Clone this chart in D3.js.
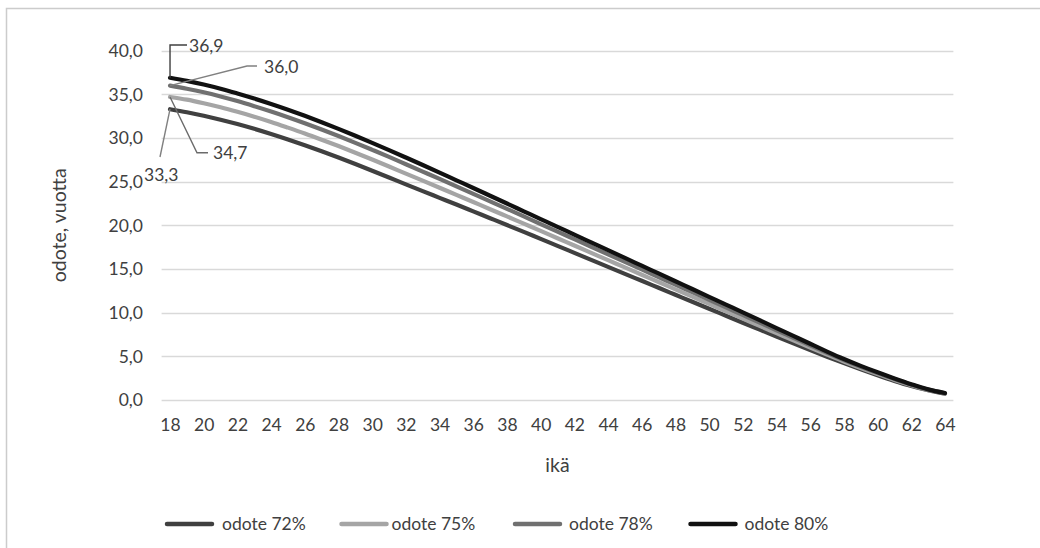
<!DOCTYPE html>
<html>
<head>
<meta charset="utf-8">
<script src="https://cdn.jsdelivr.net/npm/d3@7"></script>
<style>
  html, body { margin: 0; padding: 0; background: #fff; }
  svg { display: block; }
  text { font-family: Lato, "Open Sans", sans-serif; fill: #404040; }
</style>
</head>
<body>
<svg id="chart" width="1040" height="548"></svg>
<script>
// Ages 18..64
const ages = d3.range(18, 65);
const xTickLabels = d3.range(18, 65, 2);
const yTicks = [0, 5, 10, 15, 20, 25, 30, 35, 40];

// Expected remaining years by age, one series per employment rate
const odote72 = [33.30, 32.95, 32.55, 32.10, 31.60, 31.05, 30.46, 29.83, 29.17, 28.48,
  27.76, 27.02, 26.26, 25.48, 24.69, 23.92, 23.15, 22.38, 21.60, 20.82,
  20.04, 19.25, 18.45, 17.65, 16.85, 16.05, 15.25, 14.45, 13.65, 12.85,
  12.05, 11.25, 10.45, 9.65, 8.85, 8.06, 7.27, 6.49, 5.72, 4.96,
  4.22, 3.51, 2.83, 2.19, 1.61, 1.12, 0.72];
const odote75 = [34.70, 34.39, 33.98, 33.52, 33.00, 32.44, 31.84, 31.19, 30.52, 29.81,
  29.08, 28.32, 27.54, 26.74, 25.92, 25.12, 24.31, 23.49, 22.67, 21.85,
  21.02, 20.19, 19.36, 18.52, 17.69, 16.85, 16.01, 15.18, 14.34, 13.51,
  12.67, 11.83, 11.00, 10.16, 9.33, 8.49, 7.66, 6.83, 6.01, 5.20,
  4.41, 3.67, 2.97, 2.30, 1.69, 1.16, 0.75];
const odote78 = [36.00, 35.65, 35.24, 34.76, 34.23, 33.65, 33.04, 32.39, 31.70, 30.98,
  30.23, 29.45, 28.65, 27.84, 27.00, 26.16, 25.32, 24.47, 23.61, 22.75,
  21.89, 21.02, 20.15, 19.29, 18.42, 17.55, 16.68, 15.82, 14.95, 14.08,
  13.21, 12.35, 11.48, 10.61, 9.74, 8.87, 7.99, 7.13, 6.26, 5.40,
  4.58, 3.81, 3.09, 2.40, 1.76, 1.20, 0.78];
const odote80 = [36.90, 36.55, 36.13, 35.65, 35.10, 34.52, 33.90, 33.24, 32.54, 31.81,
  31.05, 30.26, 29.45, 28.62, 27.77, 26.91, 26.04, 25.16, 24.28, 23.39,
  22.50, 21.61, 20.72, 19.83, 18.94, 18.05, 17.16, 16.27, 15.38, 14.49,
  13.60, 12.71, 11.82, 10.93, 10.04, 9.14, 8.24, 7.34, 6.44, 5.55,
  4.70, 3.91, 3.17, 2.47, 1.81, 1.22, 0.80];

const seriesNames = ["odote 72%", "odote 75%", "odote 78%", "odote 80%"];
const seriesValues = [odote72, odote75, odote78, odote80];
const seriesColors = ["#404040", "#a5a5a5", "#707070", "#111111"];

const svg = d3.select("#chart");
const fmt = v => d3.format(".1f")(v).replace(".", ",");

// outer chart frame
svg.append("rect")
  .attr("x", 6.5).attr("y", 8.5)
  .attr("width", 1100).attr("height", 600)
  .attr("fill", "none").attr("stroke", "#cccccc").attr("stroke-width", 1.5);

const plot = { left: 161.6, right: 953.4, top: 50.7, bottom: 400 };

const x = d3.scalePoint().domain(ages).range([plot.left, plot.right]).padding(0.5);
const y = d3.scaleLinear().domain([0, 40]).range([plot.bottom, plot.top]);

// horizontal gridlines
svg.append("g")
  .selectAll("line")
  .data(yTicks)
  .join("line")
  .attr("x1", plot.left).attr("x2", plot.right)
  .attr("y1", d => Math.round(y(d)) + 0.5).attr("y2", d => Math.round(y(d)) + 0.5)
  .attr("stroke", "#d9d9d9").attr("stroke-width", 1.3);

// y axis labels
const yAxis = d3.axisLeft(y).tickValues(yTicks).tickFormat(fmt).tickSize(0).tickPadding(0);
svg.append("g")
  .attr("transform", `translate(${143},0)`)
  .call(yAxis)
  .call(g => g.select(".domain").remove())
  .call(g => g.selectAll("text").attr("font-size", 17.5).attr("dy", "0.34em")
    .style("font-family", "Lato").attr("fill", "#404040"));

// x axis labels
const xAxis = d3.axisBottom(x).tickValues(xTickLabels).tickSize(0).tickPadding(0);
svg.append("g")
  .attr("transform", `translate(0,${419})`)
  .call(xAxis)
  .call(g => g.select(".domain").remove())
  .call(g => g.selectAll("text").attr("font-size", 17.5).attr("dy", "0.71em")
    .style("font-family", "Lato").attr("fill", "#404040"));

// axis titles
svg.append("text")
  .attr("x", (plot.left + plot.right) / 2).attr("y", 472)
  .attr("text-anchor", "middle").attr("font-size", 19.5).text("ikä");
svg.append("text")
  .attr("transform", `translate(66,${(plot.top + plot.bottom) / 2}) rotate(-90)`)
  .attr("text-anchor", "middle").attr("font-size", 19.5).text("odote, vuotta");

// series lines
const line = d3.line()
  .x((d, i) => x(ages[i]))
  .y(d => y(d))
  .curve(d3.curveCatmullRom.alpha(0.5));

svg.append("g")
  .selectAll("path")
  .data(seriesValues)
  .join("path")
  .attr("d", d => line(d))
  .attr("fill", "none")
  .attr("stroke", (d, i) => seriesColors[i])
  .attr("stroke-width", 4.2)
  .attr("stroke-linecap", "round")
  .attr("stroke-linejoin", "round");

// first-point data labels with leader lines
const x0 = x(ages[0]);
const labels = [
  { v: odote72[0], pts: [[x0, y(odote72[0])], [160, 157]], tx: 144, ty: 181, col: "#808080" },
  { v: odote75[0], pts: [[x0, y(odote75[0])], [197, 152.7], [208, 152.7]], tx: 213, ty: 159, col: "#6b6b6b" },
  { v: odote78[0], pts: [[x0, y(odote78[0])], [247, 66], [257, 66]], tx: 264, ty: 73, col: "#808080" },
  { v: odote80[0], pts: [[x0, y(odote80[0])], [x0, 45], [187, 45]], tx: 189, ty: 52, col: "#404040" }
];
const lab = svg.append("g");
labels.forEach(l => {
  lab.append("path")
    .attr("d", d3.line()(l.pts))
    .attr("fill", "none").attr("stroke", l.col).attr("stroke-width", 1.4);
  lab.append("text")
    .attr("x", l.tx).attr("y", l.ty)
    .attr("font-size", 17.5)
    .text(fmt(l.v));
});

// legend
const legendX = [165, 339.5, 513, 688.5];
const textGap = [8, 3, 7, 7];
const lg = svg.append("g").attr("transform", "translate(0,524)");
seriesNames.forEach((name, i) => {
  const g = lg.append("g").attr("transform", `translate(${legendX[i]},0)`);
  g.append("line")
    .attr("x1", 2).attr("x2", 47).attr("y1", 0).attr("y2", 0)
    .attr("stroke", seriesColors[i]).attr("stroke-width", 4.5).attr("stroke-linecap", "round");
  g.append("text")
    .attr("x", 49 + textGap[i]).attr("y", 0).attr("dy", "0.35em")
    .attr("font-size", 17.5).text(name);
});
</script>
</body>
</html>
